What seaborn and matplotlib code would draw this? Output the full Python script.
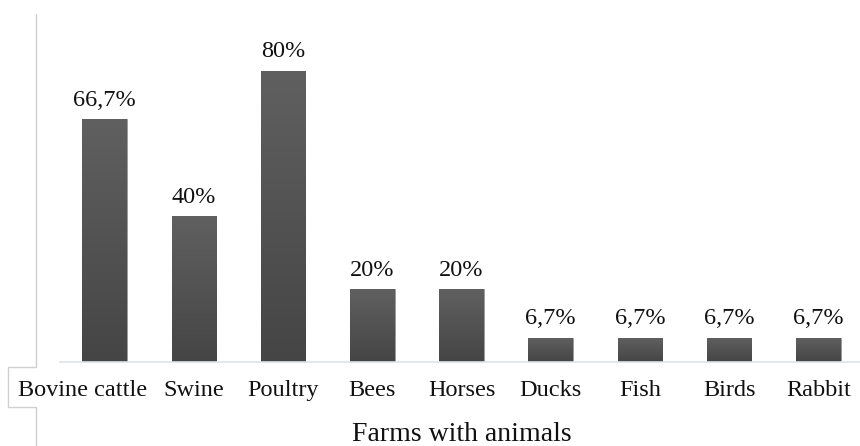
import matplotlib
matplotlib.use("Agg")
import matplotlib.pyplot as plt
import matplotlib.transforms as mtransforms
import seaborn as sns
import numpy as np
import pandas as pd
from matplotlib.lines import Line2D
from matplotlib.colors import LinearSegmentedColormap

categories = ["Bovine cattle", "Swine", "Poultry", "Bees", "Horses", "Ducks", "Fish", "Birds", "Rabbit"]
values = [66.7, 40, 80, 20, 20, 6.7, 6.7, 6.7, 6.7]
value_labels = ["66,7%", "40%", "80%", "20%", "20%", "6,7%", "6,7%", "6,7%", "6,7%"]
tick_labels = ["Bovine cattle", "Swine", "Poultry", "Bees", "Horses", "Ducks", "Fish", "Birds", "Rabbit"]
x_title = "Farms with animals"

sns.set_theme(style="white")
plt.rcParams['font.family'] = ['Liberation Serif', 'DejaVu Serif']

df = pd.DataFrame({"cat": categories, "val": values})

fig = plt.figure(figsize=(8.6, 4.46), dpi=100)
ax = fig.add_axes([60/860, 1-362/446, 1-60/860+3/860, 352/446])

sns.barplot(data=df, x="cat", y="val", color="#505050", width=0.5, ax=ax,
            saturation=1, edgecolor="#9a9a9a", linewidth=0.6)

ax.set_xlim(-0.5, len(categories) - 0.5)
ax.set_ylim(0, 352/3.64)

# subtle vertical gradient clipped to each bar
cmap = LinearSegmentedColormap.from_list("g", ["#454545", "#606060"])
grad = np.linspace(0, 1, 256).reshape(-1, 1)
for p in ax.patches:
    x0, y0 = p.get_x(), p.get_y()
    w, h = p.get_width(), p.get_height()
    im = ax.imshow(grad, cmap=cmap, aspect="auto", origin="lower",
                   extent=[x0, x0 + w, y0, y0 + h], zorder=p.get_zorder() + 0.1)
    im.set_clip_path(p)
ax.set_xlim(-0.5, len(categories) - 0.5)
ax.set_ylim(0, 352/3.64)

for i, (v, lab) in enumerate(zip(values, value_labels)):
    ax.annotate(lab, (i, v), xytext=(0, 6), textcoords="offset points",
                ha="center", va="bottom", fontsize=17.5, color="#111111")

for s in ["top", "right", "left"]:
    ax.spines[s].set_visible(False)
ax.spines["bottom"].set_color("#dde3ea")
ax.spines["bottom"].set_linewidth(1.2)
ax.set_yticks([])
ax.set_ylabel("")
ax.set_xticks(range(len(categories)))
ax.set_xticklabels(tick_labels, fontsize=17.5, color="#111111")
ax.tick_params(axis="x", length=0, pad=13)
ax.set_xlabel(x_title, fontsize=20, color="#111111", labelpad=15)

# shift the first (long) label left, as in the reference
first = ax.get_xticklabels()[0]
first.set_transform(first.get_transform() +
                    mtransforms.ScaledTranslation(-22/100, 0, fig.dpi_scale_trans))

# left frame line with notch around first label
xs = [36, 36, 8, 8, 36, 36]
ys = [14, 367, 367, 407, 407, 446]
fig.add_artist(Line2D([x / 860 for x in xs], [1 - y / 446 for y in ys],
                      color="#d0d0d0", linewidth=1.0))

fig.savefig("out.png", dpi=100, facecolor="white")
